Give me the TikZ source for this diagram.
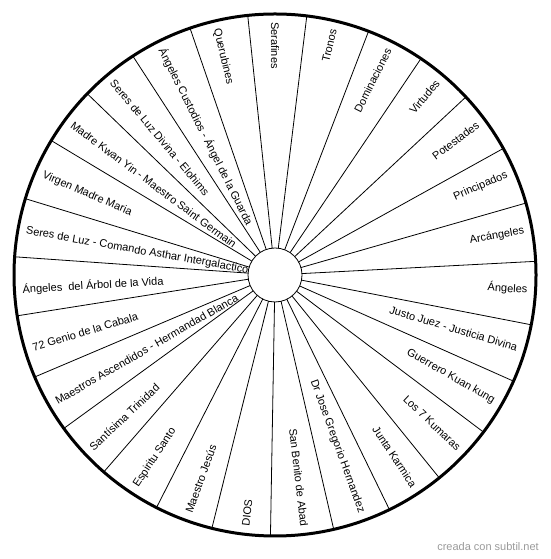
\documentclass[tikz,border=0pt]{standalone}
\usepackage{fontspec}
\setmainfont{Liberation Sans}
\usepackage{xcolor}
\definecolor{creditgray}{HTML}{9A9A9A}

\begin{document}
\begin{tikzpicture}[x=1pt, y=1pt,
    rimlabel/.style={font=\fontsize{11}{13}\selectfont, inner sep=0pt},
    spoke/.style={line width=0.8pt}]
  \useasboundingbox (0,0) rectangle (550,559);
  \coordinate (c) at (275,284);
  \node[circle, draw, line width=3pt, minimum size=522pt, inner sep=0pt, outer sep=0pt] (rim) at (c) {};
  \node[circle, draw, line width=0.8pt, minimum size=54pt, inner sep=0pt, outer sep=0pt] (hub) at (c) {};
  % spokes between the sectors
  \foreach \k [evaluate=\k as \a using 90+180/27+360/27*\k] in {0,...,26}
    \draw[spoke] (hub.\a) -- (rim.\a);
  % right half, text read outwards
  \foreach \lbl [count=\i from 1, evaluate=\i as \a using 90-360/27*\i] in
      {Tronos, Dominaciones, Virtudes, Potestades, Principados, Arcángeles, Ángeles,
       Justo Juez - Justicia Divina, Guerrero Kuan kung, Los 7 Kumaras, Junta Karmica,
       Dr Jose Gregorio Hernandez, San Benito de Abad}
    \node[rimlabel, anchor=east, rotate=\a] (lbl-\i) at ([shift={(\a:253)}]c) {\lbl};
  % left half, text read inwards
  \foreach \lbl [count=\i from 14, evaluate=\i as \a using 90-360/27*\i] in
      {DIOS, Maestro Jesús, Espiritu Santo, Santísima Trinidad,
       Maestros Ascendidos - Hermandad Blanca, 72 Genio de la Cabala,
       Ángeles\ \ del Árbol de la Vida, Seres de Luz - Comando Asthar Intergalactico,
       Virgen Madre Maria, Madre Kwan Yin - Maestro Saint Germain,
       Seres de Luz Divina - Elohims, Ángeles Custodios - Ángel de la Guarda,
       Querubines, Serafines}
    \node[rimlabel, anchor=west, rotate=\a+180] (lbl-\i) at ([shift={(\a:253)}]c) {\lbl};
  \node[font=\fontsize{11}{13}\selectfont, text=creditgray, inner sep=0pt] (credit) at (488,12) {creada con subtil.net};
\end{tikzpicture}
\end{document}
